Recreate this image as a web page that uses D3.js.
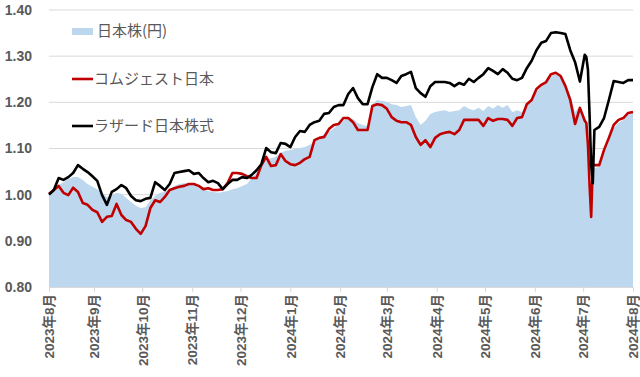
<!DOCTYPE html>
<html>
<head>
<meta charset="utf-8">
<script src="https://cdn.jsdelivr.net/npm/d3@7"></script>
<style>
  body { margin: 0; background: #fff; }
  svg text { font-family: "Liberation Sans", "Noto Sans CJK JP", sans-serif; }
</style>
</head>
<body>
<div id="chart"></div>
<script>
// dates of the sampled points (roughly every 3 days, daily around the July drop)
const dates = [
  "2023-08-04","2023-08-07","2023-08-10","2023-08-13","2023-08-16","2023-08-19","2023-08-22","2023-08-25","2023-08-28","2023-08-31",
  "2023-09-03","2023-09-06","2023-09-09","2023-09-12","2023-09-15","2023-09-18","2023-09-21","2023-09-24","2023-09-27","2023-09-30",
  "2023-10-03","2023-10-06","2023-10-09","2023-10-12","2023-10-15","2023-10-18","2023-10-21","2023-10-24","2023-10-27","2023-10-30",
  "2023-11-02","2023-11-05","2023-11-08","2023-11-11","2023-11-14","2023-11-17","2023-11-20","2023-11-23","2023-11-26","2023-11-29",
  "2023-12-02","2023-12-05","2023-12-08","2023-12-11","2023-12-14","2023-12-17","2023-12-20","2023-12-23","2023-12-26","2023-12-29",
  "2024-01-01","2024-01-04","2024-01-07","2024-01-10","2024-01-13","2024-01-16","2024-01-19","2024-01-22","2024-01-25","2024-01-28","2024-01-31",
  "2024-02-03","2024-02-06","2024-02-09","2024-02-12","2024-02-15","2024-02-18","2024-02-21","2024-02-24","2024-02-27",
  "2024-03-01","2024-03-04","2024-03-07","2024-03-10","2024-03-13","2024-03-16","2024-03-19","2024-03-22","2024-03-25","2024-03-28","2024-03-31",
  "2024-04-03","2024-04-06","2024-04-09","2024-04-12","2024-04-15","2024-04-18","2024-04-21","2024-04-24","2024-04-27","2024-04-30",
  "2024-05-03","2024-05-06","2024-05-09","2024-05-12","2024-05-15","2024-05-18","2024-05-21","2024-05-24","2024-05-27","2024-05-30",
  "2024-06-02","2024-06-05","2024-06-08","2024-06-11","2024-06-14","2024-06-17","2024-06-20","2024-06-23","2024-06-26","2024-06-29",
  "2024-07-02","2024-07-03","2024-07-04","2024-07-05","2024-07-06","2024-07-07","2024-07-08",
  "2024-07-11","2024-07-14","2024-07-17","2024-07-20","2024-07-23","2024-07-26","2024-07-29","2024-08-01"
];

// 日本株(円) - area
const japanStock = [
  1.002,1.012,1.021,1.027,1.034,1.038,1.038,1.032,1.023,1.017,
  1.012,1.004,0.995,0.999,1.004,1.002,0.993,0.984,0.976,0.971,
  0.973,0.988,0.997,1.004,1.006,1.012,1.019,1.023,1.025,1.025,
  1.023,1.014,1.012,1.008,1.006,1.004,1.006,1.008,1.012,1.014,
  1.019,1.023,1.036,1.047,1.064,1.077,1.079,1.082,1.090,1.095,
  1.097,1.099,1.101,1.103,1.108,1.114,1.125,1.131,1.136,1.144,1.153,
  1.160,1.168,1.164,1.155,1.151,1.149,1.196,1.205,1.203,
  1.201,1.196,1.194,1.190,1.192,1.194,1.168,1.151,1.160,1.175,1.179,
  1.181,1.183,1.179,1.181,1.183,1.192,1.186,1.183,1.188,1.181,
  1.192,1.186,1.194,1.188,1.194,1.179,1.183,1.179,1.192,1.207,
  1.222,1.235,1.246,1.257,1.261,1.255,1.238,1.214,1.179,1.192,
  1.166,1.157,1.118,1.036,0.971,1.058,1.058,
  1.060,1.092,1.123,1.144,1.155,1.162,1.173,1.177
];

// コムジェスト日本 - red line
const comgest = [
  1.002,1.010,1.019,1.004,0.999,1.015,1.006,0.982,0.978,0.967,
  0.962,0.941,0.952,0.954,0.980,0.956,0.945,0.941,0.926,0.915,
  0.932,0.971,0.988,0.984,0.995,1.010,1.014,1.017,1.019,1.023,
  1.023,1.019,1.012,1.014,1.010,1.010,1.012,1.025,1.047,1.047,
  1.045,1.040,1.036,1.036,1.064,1.082,1.062,1.064,1.088,1.073,
  1.066,1.064,1.069,1.077,1.082,1.118,1.123,1.125,1.142,1.151,1.153,
  1.166,1.166,1.157,1.140,1.140,1.140,1.192,1.196,1.194,
  1.186,1.168,1.160,1.157,1.157,1.151,1.125,1.108,1.118,1.103,1.123,
  1.131,1.134,1.136,1.131,1.140,1.162,1.162,1.162,1.162,1.149,
  1.166,1.160,1.164,1.164,1.162,1.149,1.166,1.168,1.196,1.205,
  1.229,1.238,1.244,1.261,1.264,1.257,1.235,1.205,1.153,1.188,
  1.160,1.155,1.108,1.021,0.952,1.066,1.064,
  1.064,1.097,1.123,1.151,1.162,1.166,1.177,1.179
];

// ラザード日本株式 - black line
const lazard = [
  1.000,1.010,1.036,1.032,1.038,1.047,1.064,1.056,1.049,1.040,
  1.030,0.999,0.978,1.006,1.012,1.021,1.014,0.997,0.988,0.986,
  0.991,0.993,1.027,1.019,1.010,1.023,1.047,1.049,1.051,1.053,
  1.045,1.047,1.036,1.027,1.030,1.025,1.012,1.023,1.032,1.032,
  1.038,1.036,1.043,1.053,1.066,1.101,1.092,1.090,1.112,1.110,
  1.103,1.125,1.138,1.136,1.151,1.157,1.160,1.175,1.177,1.190,1.194,
  1.194,1.218,1.231,1.209,1.196,1.196,1.233,1.261,1.253,
  1.253,1.248,1.242,1.257,1.261,1.266,1.231,1.220,1.212,1.235,1.244,
  1.244,1.244,1.242,1.235,1.242,1.238,1.251,1.244,1.253,1.261,
  1.274,1.268,1.261,1.272,1.264,1.251,1.248,1.253,1.274,1.290,
  1.313,1.329,1.333,1.350,1.352,1.350,1.348,1.313,1.287,1.245,
  1.303,1.298,1.270,1.173,1.064,1.025,1.140,
  1.147,1.166,1.205,1.246,1.244,1.242,1.248,1.248
];

const seriesNames = ["日本株(円)", "コムジェスト日本", "ラザード日本株式"];
const yTicks = [0.80, 0.90, 1.00, 1.10, 1.20, 1.30, 1.40];
const xTickDates = ["2023-08-04","2023-09-01","2023-10-01","2023-11-01","2023-12-01","2024-01-01",
  "2024-02-01","2024-03-01","2024-04-01","2024-05-01","2024-06-01","2024-07-01","2024-08-01"];

const W = 640, H = 377;
const margin = {top: 10, right: 7, bottom: 90, left: 49};
const width = W - margin.left - margin.right;
const height = H - margin.top - margin.bottom;

const parse = d3.timeParse("%Y-%m-%d");
const data = dates.map((d, i) => ({
  date: parse(d), area: japanStock[i], red: comgest[i], black: lazard[i]
}));

const svg = d3.select("#chart").append("svg")
  .attr("width", W).attr("height", H)
  .append("g")
  .attr("transform", `translate(${margin.left}, ${margin.top})`);

const x = d3.scaleTime()
  .domain([parse(dates[0]), parse(dates[dates.length - 1])])
  .range([0, width]);
const y = d3.scaleLinear().domain([0.8, 1.4]).range([height, 0]);

// gridlines
svg.append("g")
  .selectAll("line")
  .data(yTicks.slice(1))
  .enter().append("line")
  .attr("x1", 0).attr("x2", width)
  .attr("y1", d => y(d)).attr("y2", d => y(d))
  .attr("stroke", "#d9d9d9").attr("stroke-width", 1);

// y labels
const yAxis = svg.append("g")
  .call(d3.axisLeft(y).tickValues(yTicks).tickFormat(d3.format(".2f")).tickSize(0).tickPadding(17));
yAxis.select(".domain").remove();
yAxis.selectAll("text")
  .attr("font-size", 14).attr("font-weight", "bold").attr("fill", "#595959");

// area
svg.append("path")
  .datum(data)
  .attr("fill", "#bdd7ee")
  .attr("d", d3.area().x(d => x(d.date)).y0(y(0.8)).y1(d => y(d.area)));

// lines
const line = key => d3.line().x(d => x(d.date)).y(d => y(d[key]));
svg.append("path").datum(data)
  .attr("fill", "none").attr("stroke", "#c00000").attr("stroke-width", 2.6)
  .attr("stroke-linejoin", "round").attr("d", line("red"));
svg.append("path").datum(data)
  .attr("fill", "none").attr("stroke", "#000").attr("stroke-width", 2.6)
  .attr("stroke-linejoin", "round").attr("d", line("black"));

// x axis
const monthFmt = d3.timeFormat("%Y年%-m月");
const xAxis = svg.append("g")
  .attr("transform", `translate(0, ${height})`)
  .call(d3.axisBottom(x).tickValues(xTickDates.map(parse)).tickFormat(monthFmt).tickSize(5).tickSizeOuter(0));
xAxis.select(".domain").attr("stroke", "#d9d9d9");
xAxis.selectAll(".tick line").attr("stroke", "#d9d9d9");
xAxis.selectAll("text")
  .attr("transform", "rotate(-90)")
  .attr("text-anchor", "end")
  .attr("x", -7).attr("y", 0).attr("dy", "0.35em")
  .attr("font-size", 13.5).attr("font-weight", "bold").attr("fill", "#595959");

// legend
const legend = svg.append("g").attr("transform", "translate(23, 0)");
const rows = [
  {name: seriesNames[0], type: "box", color: "#bdd7ee", y: 21},
  {name: seriesNames[1], type: "line", color: "#c00000", y: 69},
  {name: seriesNames[2], type: "line", color: "#000", y: 116}
];
rows.forEach(r => {
  if (r.type === "box") {
    legend.append("rect").attr("x", 0).attr("y", r.y - 3).attr("width", 21).attr("height", 7).attr("fill", r.color);
  } else {
    legend.append("line").attr("x1", 0).attr("x2", 21).attr("y1", r.y).attr("y2", r.y)
      .attr("stroke", r.color).attr("stroke-width", 2.6);
  }
  legend.append("text")
    .attr("x", r.type === "box" ? 25 : 22).attr("y", r.y).attr("dy", "0.35em")
    .attr("font-size", 15).attr("fill", "#595959")
    .style("font-family", "'Noto Sans CJK JP', sans-serif")
    .text(r.name);
});
</script>
</body>
</html>
